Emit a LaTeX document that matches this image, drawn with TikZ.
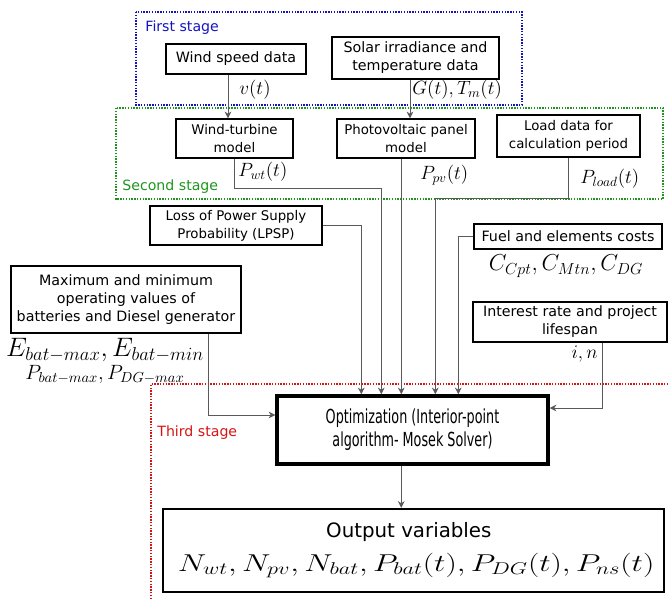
\RequirePackage{fix-cm}
\documentclass[tikz,border=0pt]{standalone}
\usepackage{amsmath}
\usepackage{graphicx}
\usepackage{fontspec}
\setmainfont{DejaVu Sans}
\usetikzlibrary{positioning,arrows.meta,calc}
\definecolor{stageblue}{RGB}{20,20,190}
\definecolor{stagegreen}{RGB}{30,150,30}
\definecolor{stagered}{RGB}{215,20,20}
\newcommand{\narrowline}[1]{\scalebox{0.66}[1]{#1}}

\begin{document}
\begin{tikzpicture}[
    x = 0.75pt, y = -0.75pt,
    > = {Stealth[length=5pt, width=5pt]},
    semithick,
    block/.style={rectangle, draw, line width=1.1pt, align=center, inner sep=1pt,
        font=\fontsize{10}{13.5}\selectfont},
    bigtext/.style={font=\fontsize{10.7}{13.5}\selectfont},
    stage/.style={densely dotted, line width=1.1pt},
    stagelabel/.style={anchor=west, inner sep=0pt, font=\fontsize{10.6}{13}\selectfont},
    sig/.style={draw=black!65, line width=0.6pt},
    lbl/.style={inner sep=0pt, font=\fontsize{14.4}{16}\selectfont}
]
    \useasboundingbox (0,0) rectangle (670,599);

    % stages
    \draw[stage, stageblue] (136,12) rectangle (522,105);
    \draw[stage, stagegreen] (116,108) rectangle (663,199);
    \draw[stage, stagered] (151,599) -- (151,384) -- (670,384);
    \node[stagelabel, text=stageblue] (s1) at (145,28) {First stage};
    \node[stagelabel, text=stagegreen] (s2) at (122,187) {Second stage};
    \node[stagelabel, text=stagered] (s3) at (157,433) {Third stage};

    % input data
    \node[block, bigtext, minimum width=105pt, minimum height=22.5pt] (wind) at (236,59) {Wind speed data};
    \node[block, bigtext, minimum width=125.25pt, minimum height=31.5pt] (solar) at (415.5,58) {Solar irradiance and\\temperature data};

    % models
    \node[block, minimum width=87.75pt, minimum height=29.25pt] (wtm) at (234.5,138.5) {Wind-turbine\\model};
    \node[block, minimum width=103.5pt, minimum height=29.25pt] (pvm) at (406,138.5) {Photovoltaic panel\\model};
    \node[block, minimum width=107.25pt, minimum height=31.5pt] (load) at (568.5,136) {Load data for\\calculation period};

    % parameters
    \node[block, minimum width=129pt, minimum height=29.25pt] (lpsp) at (236,225.5) {Loss of Power Supply\\Probability (LPSP)};
    \node[block, bigtext, minimum width=172.5pt, minimum height=50.25pt] (maxmin) at (126,299.5) {Maximum and minimum\\operating values of\\batteries and Diesel generator};
    \node[block, bigtext, minimum width=141pt, minimum height=18.75pt] (fuel) at (568,236.5) {Fuel and elements costs};
    \node[block, bigtext, minimum width=145.5pt, minimum height=30pt] (rate) at (570,322) {Interest rate and project\\lifespan};

    % optimization and output
    \node[block, line width=2.6pt, minimum width=203.25pt, minimum height=51pt,
        font=\fontsize{14.5}{17.25}\selectfont] (opt) at (412.5,430)
        {\narrowline{Optimization (Interior-point}\\\narrowline{algorithm- Mosek Solver)}};
    \node[block, line width=1.8pt, minimum width=375.75pt, minimum height=62.25pt,
        font=\fontsize{14.85}{18}\selectfont] (out) at (413.5,550.5)
        {Output variables\hspace*{7pt}\\[7pt] \fontsize{18.3}{22}\selectfont
        \hspace*{4pt}\scalebox{1.31}[1]{$N_{wt},N_{pv},N_{bat},P_{bat}(t),P_{DG}(t),P_{ns}(t)$}};

    % inputs of the optimization
    \path (opt.north west) ++(86,0) coordinate (in1) ++(20,0) coordinate (in2)
        ++(20,0) coordinate (in3) ++(34,0) coordinate (in4) ++(23,0) coordinate (in5);
    \coordinate (w1) at ($(wind.south)+(-8,0)$);
    \coordinate (g1) at ($(solar.south)+(-5.5,0)$);

    \draw[sig, ->] (w1) -- (w1 |- wtm.north);
    \draw[sig, ->] (g1) -- (g1 |- pvm.north);
    \draw[sig, ->] (lpsp.east) -| (in1);
    \draw[sig, ->] (wtm.south) -- ++(0,30) -| (in2);
    \draw[sig, ->] (pvm.south -| in3) -- (in3);
    \draw[sig, ->] (load.south) -- ++(0,41) -| (in4);
    \draw[sig, ->] (fuel.west) -| (in5);
    \draw[sig, ->] ($(maxmin.south east)+(-33,0)$) |- ($(opt.west)+(0,-15)$);
    \draw[sig, ->] ($(rate.south west)+(130,0)$) |- ($(opt.east)+(0,-22)$);
    \draw[sig, ->] (opt.south -| in3) -- (in3 |- out.north);

    % signal labels
    \node[lbl, anchor=west] (lv) at (239,90) {$v(t)$};
    \node[lbl, anchor=west] (lg) at (412,90) {$G(t),T_m(t)$};
    \node[lbl, anchor=west] (lwt) at (238,172) {$P_{wt}(t)$};
    \node[lbl, anchor=west] (lpv) at (420,175) {$P_{pv}(t)$};
    \node[lbl, anchor=west] (lload) at (580,179) {$P_{load}(t)$};
    \node[lbl, font=\fontsize{17.28}{18}\selectfont] (lc) at (566,266) {$C_{Cpt},C_{Mtn},C_{DG}$};
    \node[lbl, anchor=east] (lin) at (598,354) {$i,n$};
    \node[lbl, align=center, font=\fontsize{15.5}{15.75}\selectfont] (le) at (105,361)
        {{\fontsize{20}{20}\selectfont$E_{bat-max},E_{bat-min}$}\\[2pt]$P_{bat-max},P_{DG-max}$};
\end{tikzpicture}
\end{document}
